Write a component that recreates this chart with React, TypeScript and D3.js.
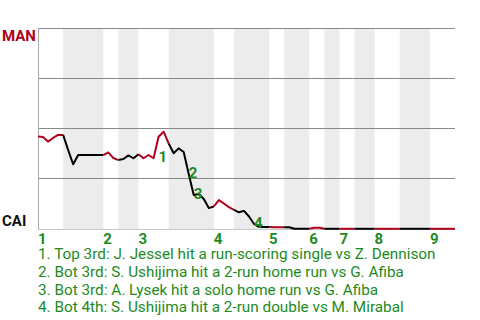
import React from "react";
import * as d3 from "d3";

// Plate appearances in each half inning (top 1, bot 1, top 2, ...)
const halfInningPAs = [5, 8, 3, 4, 6, 9, 4, 7, 3, 5, 3, 3, 3, 4, 5, 6, 5];
const inningLabels = ["1", "2", "3", "4", "5", "6", "7", "8", "9"];

// MAN win probability after each plate appearance (index 0 = game start)
const manWinProb = [
  0.46, 0.458, 0.435, 0.453, 0.468, 0.468, 0.393, 0.322, 0.368, 0.368,
  0.368, 0.368, 0.368, 0.368, 0.381, 0.353, 0.343, 0.348, 0.366, 0.352,
  0.372, 0.352, 0.368, 0.352, 0.459, 0.484, 0.426, 0.377, 0.401, 0.383,
  0.274, 0.169, 0.174, 0.149, 0.104, 0.112, 0.144, 0.127, 0.109, 0.095,
  0.083, 0.09, 0.062, 0.025, 0.01, 0.01, 0.01, 0.0085, 0.0085, 0.0085,
  0.0085, 0.0015, 0.0015, 0.0015, 0.0015, 0.0065, 0.0065, 0.001, 0.001, 0.001,
  0.001, 0.001, 0.001, 0.001, 0.001, 0.001, 0.001, 0.001, 0.001, 0.001,
  0.001, 0.001, 0.001, 0.001, 0.001, 0.001, 0.001, 0.001, 0.001, 0.001,
  0.001, 0.001, 0.001, 0.001,
];

const eventIndex = [24, 30, 31, 43];
const eventLabels = ["1", "2", "3", "4"];
const eventTexts = [
  "1. Top 3rd: J. Jessel hit a run-scoring single vs Z. Dennison",
  "2. Bot 3rd: S. Ushijima hit a 2-run home run vs G. Afiba",
  "3. Bot 3rd: A. Lysek hit a solo home run vs G. Afiba",
  "4. Bot 4th: S. Ushijima hit a 2-run double vs M. Mirabal",
];

const gridValues = [0.25, 0.5, 0.75, 1];
const teamTop = "MAN";
const teamBottom = "CAI";

const RED = "#b0001c";
const GREEN = "#1e8a1e";
const FONT = "Roboto, 'Noto Sans', sans-serif";

export default function App() {
  const W = 480;
  const H = 320;
  const left = 38;
  const right = 455;
  const top = 28;
  const bottom = 229;

  const bounds = [0];
  halfInningPAs.forEach((n) => bounds.push(bounds[bounds.length - 1] + n));
  const total = bounds[bounds.length - 1];

  const x = d3.scaleLinear().domain([0, total]).range([left, right]);
  const y = d3.scaleLinear().domain([0, 1]).range([bottom, top]);

  const crisp = (v: number) => Math.floor(v) + 0.5;

  const halves = halfInningPAs.map((_, h) => ({
    h,
    start: bounds[h],
    end: bounds[h + 1],
  }));

  const segPath = (start: number, end: number) => {
    const pts: [number, number][] = [];
    for (let i = start; i <= end; i++) pts.push([x(i), y(manWinProb[i])]);
    return d3.line()(pts) || "";
  };

  return (
    <svg
      width={W}
      height={H}
      style={{ position: "absolute", left: 0, top: 0, background: "#fff" }}
      fontFamily={FONT}
    >
      {halves
        .filter((d) => d.h % 2 === 1)
        .map((d) => (
          <rect
            key={"b" + d.h}
            x={x(d.start)}
            y={top}
            width={x(d.end) - x(d.start)}
            height={bottom - top}
            fill="#ececec"
          />
        ))}
      {gridValues.map((v) => (
        <line
          key={"g" + v}
          x1={left}
          x2={right}
          y1={crisp(y(v))}
          y2={crisp(y(v))}
          stroke="#888"
          strokeWidth={1}
        />
      ))}
      <line x1={left} x2={right} y1={crisp(bottom)} y2={crisp(bottom)} stroke="#c8c8c8" strokeWidth={1} />
      <line x1={crisp(left)} x2={crisp(left)} y1={top} y2={bottom + 1} stroke="#aaa" strokeWidth={1} />

      {halves.map((d) => (
        <path
          key={"l" + d.h}
          d={segPath(d.start, d.end)}
          fill="none"
          stroke={d.h % 2 === 0 ? RED : "#000"}
          strokeWidth={2}
          strokeLinejoin="round"
        />
      ))}

      {eventIndex.map((idx, k) => (
        <text
          key={"e" + k}
          x={x(idx)}
          y={y(Math.min(manWinProb[idx - 1], manWinProb[idx])) - 1}
          dy="0.35em"
          fill={GREEN}
          fontWeight="bold"
          fontSize={15}
        >
          {eventLabels[k]}
        </text>
      ))}

      {inningLabels.map((lab, j) => (
        <text key={"i" + j} x={x(bounds[2 * j])} y={244} fill={GREEN} fontWeight="bold" fontSize={15}>
          {lab}
        </text>
      ))}

      <text x={2} y={40.5} fill={RED} fontWeight="bold" fontSize={15}>
        {teamTop}
      </text>
      <text x={2} y={226} fill="#111" fontWeight="bold" fontSize={15}>
        {teamBottom}
      </text>

      {eventTexts.map((t, k) => (
        <text key={"t" + k} x={38} y={259 + 17.8 * k} fill={GREEN} fontSize={15.3}>
          {t}
        </text>
      ))}
    </svg>
  );
}
